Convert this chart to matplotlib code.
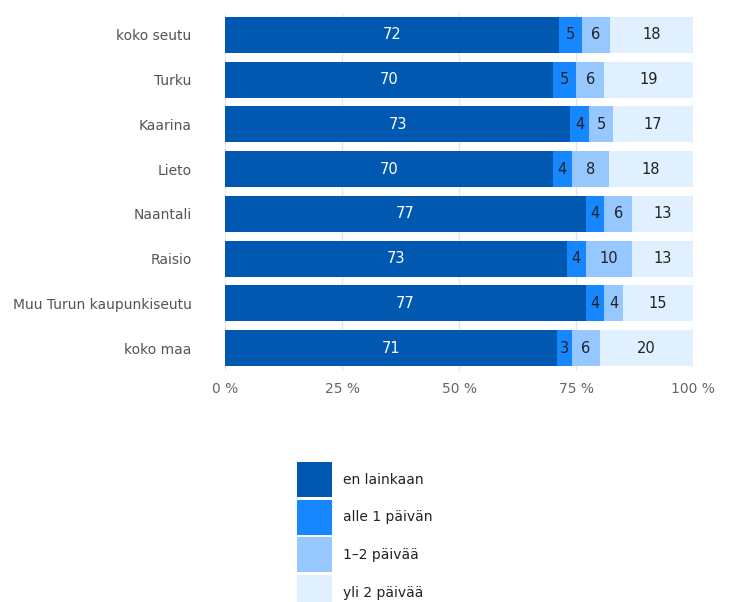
import matplotlib
matplotlib.use("Agg")
import matplotlib.pyplot as plt
from matplotlib.patches import Rectangle
import numpy as np

categories = ["koko seutu", "Turku", "Kaarina", "Lieto", "Naantali", "Raisio",
              "Muu Turun kaupunkiseutu", "koko maa"]
series_names = ["en lainkaan", "alle 1 päivän", "1–2 päivää", "yli 2 päivää"]
en_lainkaan = [72, 70, 73, 70, 77, 73, 77, 71]
alle_1 = [5, 5, 4, 4, 4, 4, 4, 3]
paivaa_1_2 = [6, 6, 5, 8, 6, 10, 4, 6]
yli_2 = [18, 19, 17, 18, 13, 13, 15, 20]
xticks = [0, 25, 50, 75, 100]
xtick_labels = ["0 %", "25 %", "50 %", "75 %", "100 %"]

colors = ["#0058b0", "#1787ff", "#96c8ff", "#e0f0ff"]
text_colors = ["white", "#222222", "#222222", "#222222"]

W, H = 731, 602
fig = plt.figure(figsize=(W / 100, H / 100), dpi=100)
ax = fig.add_axes([225 / W, 1 - 370.5 / H, 468.3 / W, 358 / H])

data = np.array([en_lainkaan, alle_1, paivaa_1_2, yli_2], dtype=float)
totals = data.sum(axis=0)
pct = data / totals * 100

y = np.arange(len(categories))
left = np.zeros(len(categories))
for i in range(4):
    ax.barh(y, pct[i], left=left, height=0.8, color=colors[i],
            edgecolor="none", label=series_names[i], zorder=2)
    for j in range(len(categories)):
        ax.text(left[j] + pct[i][j] / 2, y[j], str(int(data[i][j])),
                ha="center", va="center", fontsize=10.5,
                color=text_colors[i], zorder=3)
    left += pct[i]

ax.set_xlim(0, 100)
ax.set_ylim(len(categories) - 0.5, -0.5)
ax.set_yticks(y)
ax.set_yticklabels(categories, fontsize=10, color="#555555")
ax.set_xticks(xticks)
ax.set_xticklabels(xtick_labels, fontsize=10, color="#666666")
ax.tick_params(axis="both", length=0)
ax.tick_params(axis="y", pad=24)
ax.tick_params(axis="x", pad=8)
ax.grid(axis="x", color="#e6e6e6", linewidth=1, zorder=0)
ax.set_axisbelow(True)
for s in ax.spines.values():
    s.set_visible(False)

# legend drawn manually
sq_x, sq_w = 297, 35
tops = [462, 499.7, 537.4, 575.1]
for i, name in enumerate(series_names):
    t = tops[i]
    fig.patches.append(Rectangle((sq_x / W, 1 - (t + sq_w) / H), sq_w / W, sq_w / H,
                                 transform=fig.transFigure, facecolor=colors[i],
                                 edgecolor="none"))
    fig.text(343 / W, 1 - (t + 17.5) / H, name, fontsize=10, color="#222222",
             ha="left", va="center")

fig.savefig("out.png", dpi=100)
